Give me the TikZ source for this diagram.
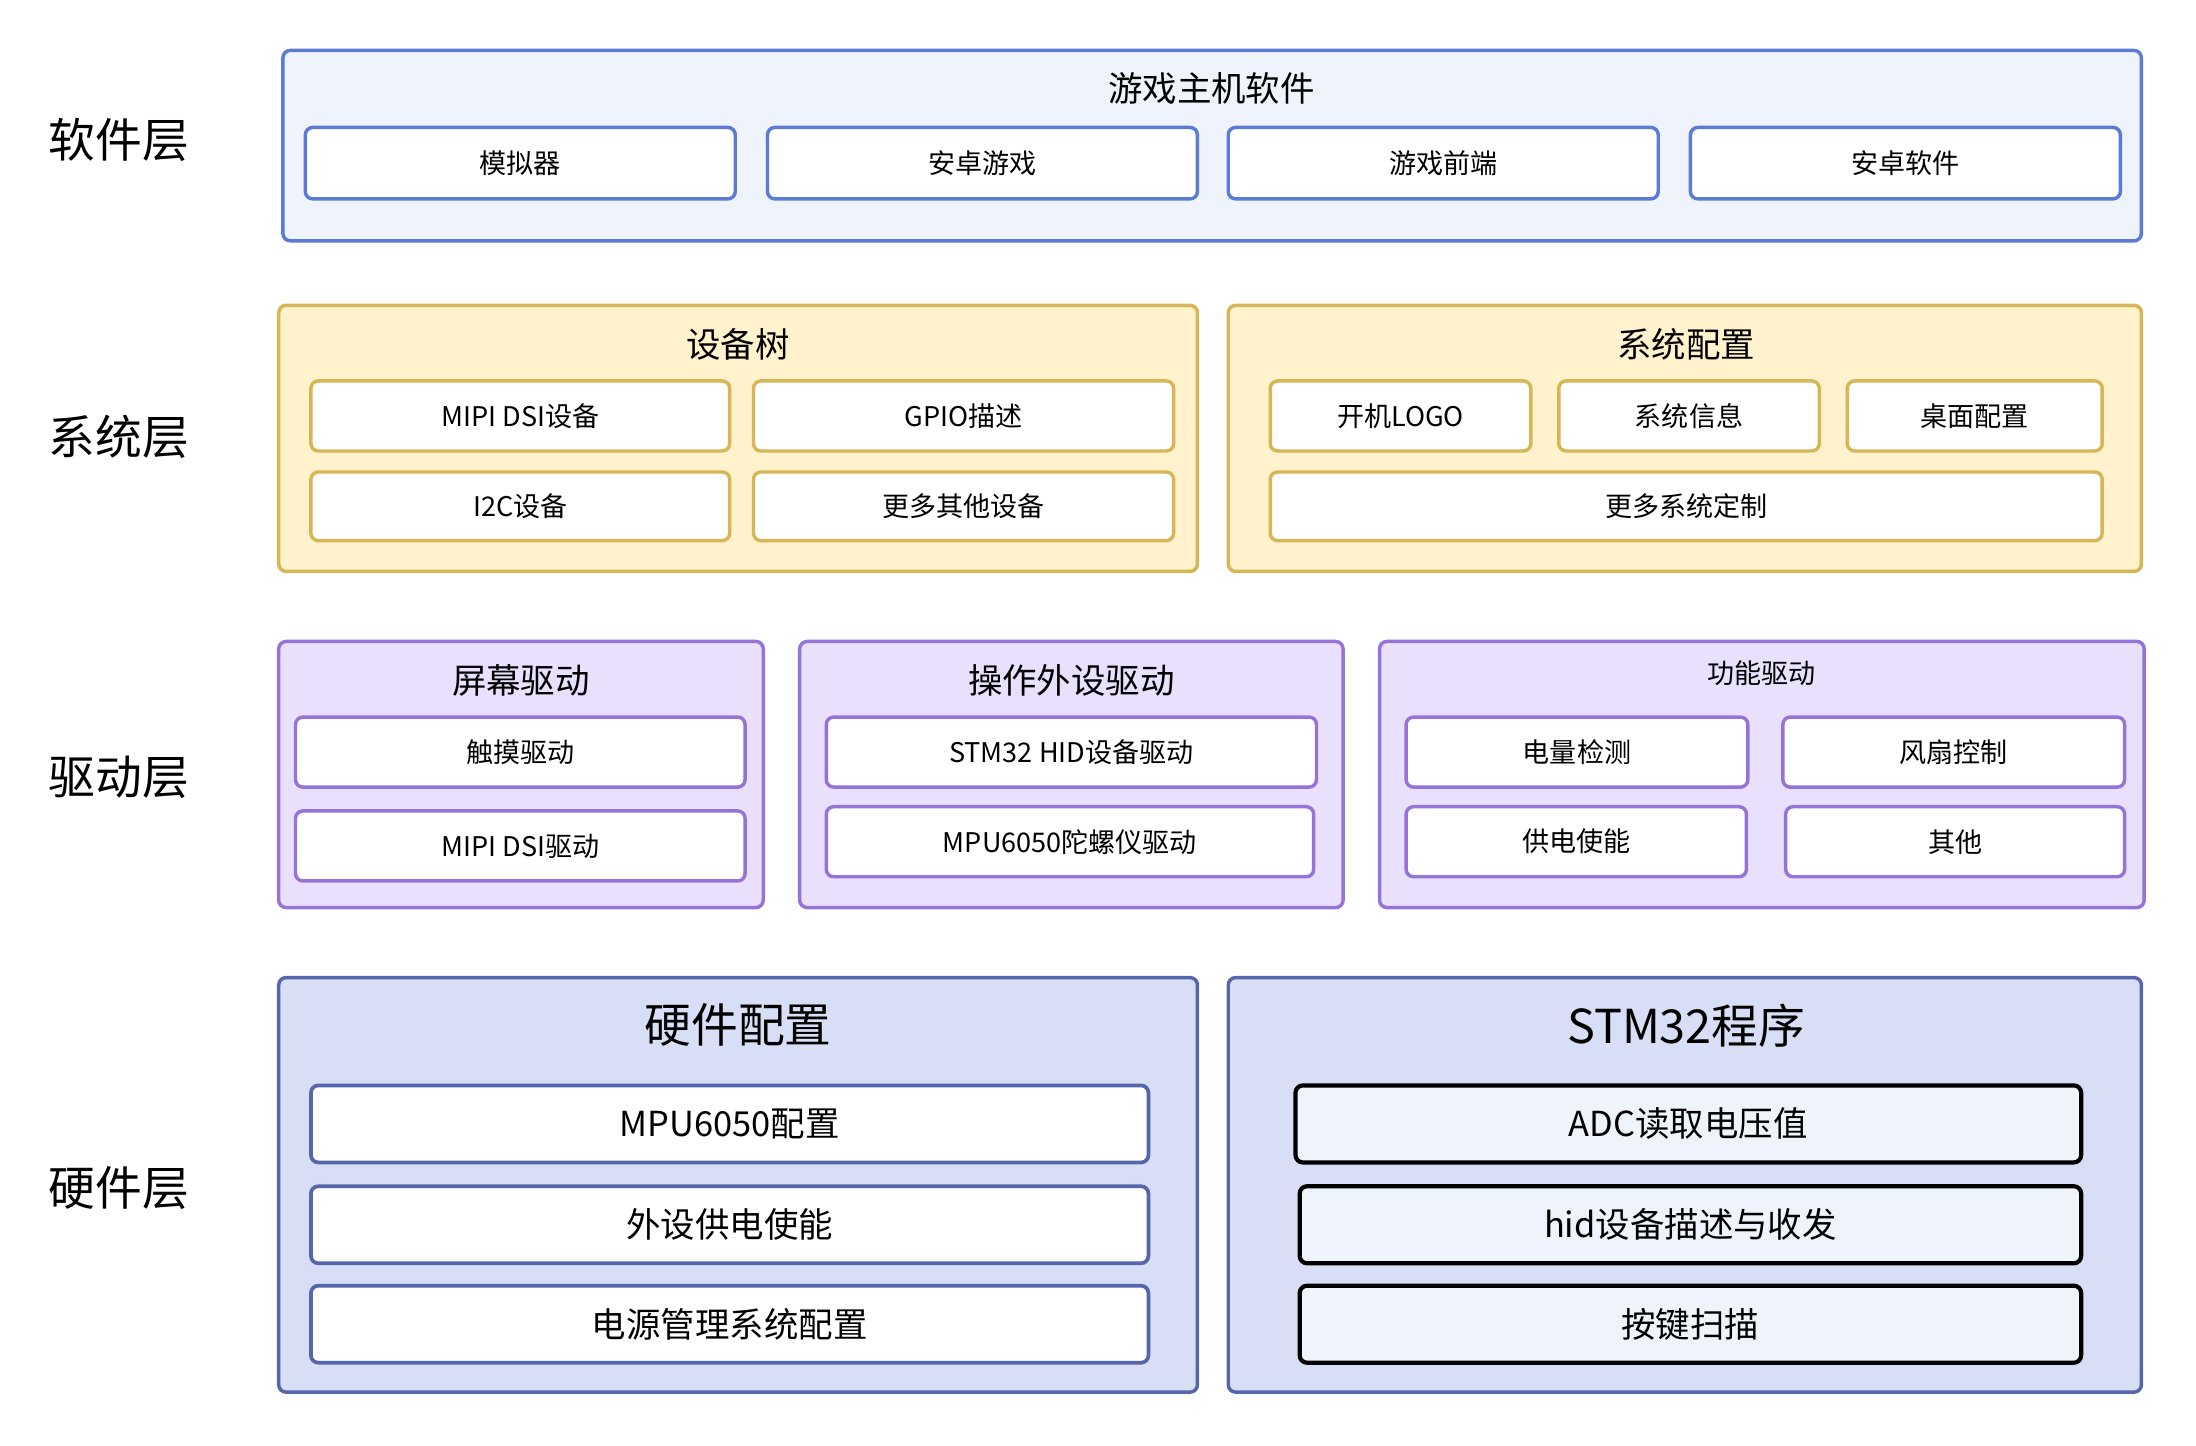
\documentclass[tikz,border=0pt]{standalone}
\usepackage{fontspec}
\setmainfont{Noto Sans CJK SC}
\begin{document}
\begin{tikzpicture}
\definecolor{swf}{HTML}{EEF3FC}\definecolor{swb}{HTML}{5B7BD5}
\definecolor{syf}{HTML}{FFF2CC}\definecolor{syb}{HTML}{D6B656}
\definecolor{drf}{HTML}{E8E0FC}\definecolor{drb}{HTML}{9673D6}
\definecolor{hwf}{HTML}{D8DEF5}\definecolor{hwb}{HTML}{5566AA}
\tikzset{
 base/.style={draw,rounded corners=3pt,inner sep=0pt},
 swo/.style={base,fill=swf,draw=swb,line width=1.4pt},
 swi/.style={base,fill=white,draw=swb,line width=1.4pt,font=\fontsize{11}{13}\selectfont},
 syo/.style={base,fill=syf,draw=syb,line width=1.4pt},
 syi/.style={base,fill=white,draw=syb,line width=1.4pt,font=\fontsize{11}{13}\selectfont},
 dro/.style={base,fill=drf,draw=drb,line width=1.4pt},
 dri/.style={base,fill=white,draw=drb,line width=1.4pt,font=\fontsize{11}{13}\selectfont},
 hwo/.style={base,fill=hwf,draw=hwb,line width=1.4pt},
 hwi/.style={base,fill=white,draw=hwb,line width=1.5pt,font=\fontsize{14}{16}\selectfont},
 hwk/.style={base,fill=swf,draw=black,line width=1.7pt,font=\fontsize{14}{16}\selectfont},
 ttl/.style={inner sep=0pt,font=\fontsize{14}{16}\selectfont},
 big/.style={inner sep=0pt,font=\fontsize{19}{22}\selectfont},
 lay/.style={inner sep=0pt,font=\fontsize{19}{22}\selectfont},
}
\newcommand\bx[7]{\node[#6, minimum width={(#4-#2)*0.02cm}, minimum height={(#5-#3)*0.02cm}] (#1) at ({(#2+#4)/2*0.02},{-(#3+#5)/2*0.02}) {#7};}
\newcommand\tx[5]{\node[#4] (#1) at ({#2*0.02},{-#3*0.02}) {#5};}
\useasboundingbox (0,0) rectangle ({1568*0.02},{-1032*0.02});
% layer labels
\tx{l1}{85}{100}{lay}{软件层}
\tx{l2}{85}{312}{lay}{系统层}
\tx{l3}{85}{555}{lay}{驱动层}
\tx{l4}{85}{848}{lay}{硬件层}
% software
\bx{sw}{202}{36}{1529}{172}{swo}{}
\tx{swt}{865}{63}{ttl}{游戏主机软件}
\bx{s1}{218}{91}{525}{142}{swi}{模拟器}
\bx{s2}{548}{91}{855}{142}{swi}{安卓游戏}
\bx{s3}{877}{91}{1184}{142}{swi}{游戏前端}
\bx{s4}{1207}{91}{1514}{142}{swi}{安卓软件}
% system
\bx{dt}{199}{218}{855}{408}{syo}{}
\tx{dtt}{527}{246}{ttl}{设备树}
\bx{d1}{222}{272}{521}{322}{syi}{MIPI DSI设备}
\bx{d2}{538}{272}{838}{322}{syi}{GPIO描述}
\bx{d3}{222}{337}{521}{386}{syi}{I2C设备}
\bx{d4}{538}{337}{838}{386}{syi}{更多其他设备}
\bx{sc}{877}{218}{1529}{408}{syo}{}
\tx{sct}{1204}{246}{ttl}{系统配置}
\bx{c1}{907}{272}{1093}{322}{syi}{开机LOGO}
\bx{c2}{1113}{272}{1299}{322}{syi}{系统信息}
\bx{c3}{1319}{272}{1501}{322}{syi}{桌面配置}
\bx{c4}{907}{337}{1501}{386}{syi}{更多系统定制}
% driver
\bx{scr}{199}{458}{545}{648}{dro}{}
\tx{scrt}{372}{486}{ttl}{屏幕驱动}
\bx{r1}{211}{512}{532}{562}{dri}{触摸驱动}
\bx{r2}{211}{579}{532}{629}{dri}{MIPI DSI驱动}
\bx{per}{571}{458}{959}{648}{dro}{}
\tx{pert}{765}{486}{ttl}{操作外设驱动}
\bx{p1}{590}{512}{940}{562}{dri}{STM32 HID设备驱动}
\bx{p2}{590}{576}{938}{626}{dri}{MPU6050陀螺仪驱动}
\bx{fun}{985}{458}{1531}{648}{dro}{}
\tx{funt}{1258}{481}{font=\fontsize{11}{13}\selectfont,inner sep=0pt}{功能驱动}
\bx{f1}{1004}{512}{1248}{562}{dri}{电量检测}
\bx{f2}{1273}{512}{1517}{562}{dri}{风扇控制}
\bx{f3}{1004}{576}{1247}{626}{dri}{供电使能}
\bx{f4}{1275}{576}{1517}{626}{dri}{其他}
% hardware
\bx{hw}{199}{698}{855}{994}{hwo}{}
\tx{hwt}{527}{732}{big}{硬件配置}
\bx{h1}{222}{775}{820}{830}{hwi}{MPU6050配置}
\bx{h2}{222}{847}{820}{902}{hwi}{外设供电使能}
\bx{h3}{222}{918}{820}{973}{hwi}{电源管理系统配置}
\bx{stm}{877}{698}{1529}{994}{hwo}{}
\tx{stmt}{1204}{732}{big}{STM32程序}
\bx{k1}{925}{775}{1486}{830}{hwk}{ADC读取电压值}
\bx{k2}{928}{847}{1486}{902}{hwk}{hid设备描述与收发}
\bx{k3}{928}{918}{1486}{973}{hwk}{按键扫描}
\end{tikzpicture}
\end{document}
